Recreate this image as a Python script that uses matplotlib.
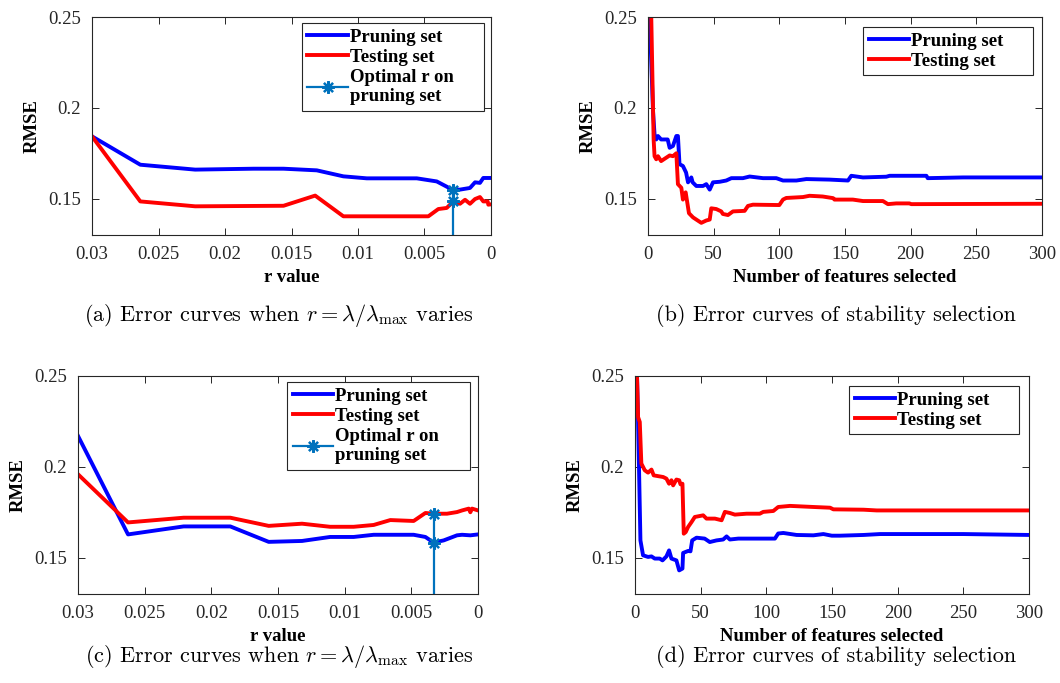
import matplotlib
matplotlib.use('Agg')
import matplotlib.pyplot as plt

plt.rcParams['font.family'] = 'Liberation Serif'
plt.rcParams['mathtext.fontset'] = 'cm'

# (a) error vs r value
a_r_prune = [0.03, 0.02637, 0.02224, 0.01785, 0.0156, 0.0131, 0.0111, 0.00934, 0.00558,
             0.00408, 0.00283, 0.00233, 0.00158, 0.0012, 0.00083, 0.00058, 0.0]
a_prune = [0.1843, 0.1687, 0.1660, 0.1665, 0.1665, 0.1656, 0.1623, 0.1612, 0.1612,
           0.1595, 0.1547, 0.1550, 0.1559, 0.1590, 0.1587, 0.1614, 0.1614]
a_r_test = [0.03, 0.02637, 0.02224, 0.0156, 0.01322, 0.0111, 0.00471, 0.00396, 0.00333,
            0.00283, 0.00233, 0.00195, 0.00158, 0.0012, 0.00083, 0.00058, 0.00025, 0.0002, 0.0]
a_test = [0.1843, 0.1485, 0.1458, 0.1461, 0.1517, 0.1403, 0.1403, 0.1443, 0.1449,
          0.1485, 0.1472, 0.1494, 0.1472, 0.1498, 0.1509, 0.1485, 0.1485, 0.1467, 0.1469]
a_opt_r = 0.00283
a_opt_vals = [0.10, 0.1485, 0.1547]

# (c) error vs r value
c_r_prune = [0.03, 0.02625, 0.02208, 0.01858, 0.0157, 0.0132, 0.0111, 0.00933, 0.00783,
             0.00483, 0.00395, 0.00333, 0.00258, 0.00208, 0.00158, 0.0012, 0.00058, 0.0]
c_prune = [0.2170, 0.1628, 0.1672, 0.1672, 0.1587, 0.1592, 0.1614, 0.1614, 0.1626,
           0.1626, 0.1614, 0.1583, 0.1595, 0.1609, 0.1623, 0.1626, 0.1623, 0.1628]
c_r_test = [0.03, 0.02625, 0.02208, 0.01858, 0.0157, 0.0132, 0.0111, 0.00933, 0.00783,
            0.00658, 0.00483, 0.00395, 0.00333, 0.00233, 0.00158, 0.0012, 0.0007, 0.00058,
            0.00045, 0.0]
c_test = [0.1959, 0.1694, 0.1720, 0.1720, 0.1675, 0.1687, 0.1670, 0.1670, 0.1680,
          0.1707, 0.1702, 0.1746, 0.1742, 0.1742, 0.1751, 0.1760, 0.1770, 0.1750,
          0.1770, 0.1760]
c_opt_r = 0.00333
c_opt_vals = [0.10, 0.1583, 0.1742]

r_ticks = [0.03, 0.025, 0.02, 0.015, 0.01, 0.005, 0]
r_ticklabels = ['0.03', '0.025', '0.02', '0.015', '0.01', '0.005', '0']

# (b) stability selection
b_n_prune = [1.3, 3.8, 5, 6.3, 7.6, 10, 15, 16.5, 19, 21.6, 22.8, 24, 26.6, 29, 30.5, 33, 34,
             36.8, 41.9, 44.4, 47, 49.5, 54.6, 59.6, 63.5, 72.3, 77.4, 87.6, 97.7, 102.8, 113,
             120.6, 138.3, 152.3, 154.8, 163.7, 181.5, 184, 212, 213, 240, 300]
b_prune = [0.25, 0.1987, 0.1853, 0.1826, 0.1845, 0.1826, 0.1826, 0.178, 0.179, 0.1845, 0.1845,
           0.169, 0.168, 0.1644, 0.159, 0.1617, 0.159, 0.157, 0.157, 0.158, 0.155, 0.159,
           0.1593, 0.160, 0.1613, 0.1613, 0.1622, 0.1613, 0.1613, 0.160, 0.160, 0.1608,
           0.1605, 0.160, 0.1626, 0.1617, 0.1621, 0.1626, 0.1626, 0.1613, 0.1617, 0.1617]
b_n_test = [2.5, 4.3, 5, 6.3, 7.6, 10, 14, 16.5, 19, 21.6, 22.8, 25.4, 26.6, 28.7, 31.2, 34.3,
            36.8, 40.6, 44.4, 47, 48.2, 52, 55.8, 57, 60.9, 64.7, 73.6, 76.1, 79.9, 100, 102.8,
            105.3, 118, 123, 133, 141, 142, 156, 163.7, 178.9, 182.7, 189, 199, 200.5, 300]
b_test = [0.25, 0.1826, 0.1734, 0.1717, 0.1734, 0.1707, 0.1726, 0.1738, 0.1734, 0.175, 0.158,
          0.156, 0.1495, 0.1535, 0.142, 0.1397, 0.1385, 0.1367, 0.138, 0.1385, 0.1447, 0.1443,
          0.143, 0.1416, 0.141, 0.143, 0.1433, 0.146, 0.1467, 0.1465, 0.1495, 0.1504, 0.1509,
          0.1516, 0.1512, 0.1503, 0.1495, 0.1495, 0.1487, 0.1487, 0.147, 0.1474, 0.1474,
          0.147, 0.1472]

# (d) stability selection
d_n_prune = [1.5, 2.3, 3, 4.1, 6.1, 9.9, 12.5, 15, 18.8, 20.9, 23.9, 25.9, 27.7, 31.5, 33.6,
             36.1, 36.6, 40.4, 42.2, 43.5, 46.8, 53, 56.9, 62, 67.1, 69.7, 72.2, 78.6, 95, 106.5,
             109, 112.9, 123, 135.8, 143.4, 149.8, 156, 174, 186.6, 250, 300]
d_prune = [0.25, 0.2256, 0.2, 0.1595, 0.1513, 0.1504, 0.1507, 0.1495, 0.1495, 0.1485, 0.1507,
           0.154, 0.1495, 0.1485, 0.143, 0.144, 0.1526, 0.1537, 0.1535, 0.1595, 0.161, 0.1605,
           0.1586, 0.1595, 0.160, 0.1617, 0.160, 0.1605, 0.1605, 0.1605, 0.1633, 0.1636,
           0.1625, 0.1623, 0.163, 0.1621, 0.1621, 0.1625, 0.163, 0.163, 0.1625]
d_n_test = [1.5, 2.3, 3.6, 4.8, 7.4, 9.9, 12.5, 14.2, 21.4, 23.9, 25.9, 27.7, 29, 31.5, 33.6,
            34.6, 36.1, 37.1, 38.6, 40.4, 43, 45.5, 51.9, 54.4, 60.8, 65.9, 68.4, 72.2, 76, 84.9,
            95, 97.6, 105.3, 109, 118, 135.8, 148.5, 151, 174, 184, 199, 300]
d_test = [0.25, 0.2274, 0.2247, 0.2018, 0.1981, 0.1968, 0.1985, 0.1953, 0.1944, 0.1935, 0.1907,
          0.1926, 0.1898, 0.193, 0.1926, 0.1904, 0.1907, 0.1632, 0.1641, 0.1669, 0.1696, 0.1724,
          0.1733, 0.1715, 0.1715, 0.1706, 0.1752, 0.1746, 0.1737, 0.1742, 0.1742, 0.1752,
          0.1757, 0.1779, 0.1785, 0.1779, 0.1775, 0.1766, 0.1764, 0.176, 0.176, 0.176]

n_ticks = [0, 50, 100, 150, 200, 250, 300]
y_ticks = [0.15, 0.2, 0.25]
y_ticklabels = ['0.15', '0.2', '0.25']

BLUE = '#0000ff'
RED = '#ff0000'
OPT = '#0072bd'
EDGE = '#262626'


def style_axes(ax):
    for s in ax.spines.values():
        s.set_color(EDGE)
        s.set_linewidth(0.8)
    ax.tick_params(direction='in', top=True, right=True, length=5, width=0.7,
                   labelsize=13.5, colors=EDGE, pad=8)
    ax.set_ylim(0.13, 0.25)
    ax.set_yticks(y_ticks)
    ax.set_yticklabels(y_ticklabels)
    ax.set_ylabel('RMSE', fontsize=13.5, fontweight='bold', labelpad=5)


def add_legend(ax, box):
    # box = (x0, width, top) in axes fraction; legend stretched to that width
    x0, w, top = box
    leg = ax.legend(loc='upper left', bbox_to_anchor=(x0, 0, w, top), mode='expand',
                    borderaxespad=0, fancybox=False, edgecolor=EDGE, framealpha=1,
                    prop={'weight': 'bold', 'size': 13.5}, handlelength=2.15,
                    handletextpad=0.1, labelspacing=0.15, borderpad=0.3)
    leg.get_frame().set_linewidth(0.8)


def r_panel(ax, rp, yp, rt, yt, opt_r, opt_vals, box):
    ax.plot(rp, yp, color=BLUE, lw=2.8, label='Pruning set')
    ax.plot(rt, yt, color=RED, lw=2.8, label='Testing set')
    ax.plot([opt_r] * len(opt_vals), opt_vals, color=OPT, lw=1.6, marker=(8, 2, 0),
            markevery=[1, 2], markersize=9, markeredgewidth=1.6,
            label='Optimal r on\npruning set')
    ax.set_xlim(0.03, 0)
    ax.set_xticks(r_ticks)
    ax.set_xticklabels(r_ticklabels)
    ax.set_xlabel('r value', fontsize=13.5, fontweight='bold', labelpad=4)
    style_axes(ax)
    add_legend(ax, box)


def n_panel(ax, np_, yp, nt, yt, box):
    ax.plot(np_, yp, color=BLUE, lw=2.8, label='Pruning set')
    ax.plot(nt, yt, color=RED, lw=2.8, label='Testing set')
    ax.set_xlim(0, 300)
    ax.set_xticks(n_ticks)
    ax.set_xlabel('Number of features selected', fontsize=13.5, fontweight='bold', labelpad=4)
    style_axes(ax)
    add_legend(ax, box)


fig = plt.figure(figsize=(10.6, 6.83), dpi=100)
ax_a = fig.add_axes([0.0868, 0.6559, 0.3764, 0.3192])
ax_b = fig.add_axes([0.6113, 0.6559, 0.3717, 0.3192])
ax_c = fig.add_axes([0.0736, 0.1303, 0.3774, 0.3192])
ax_d = fig.add_axes([0.5991, 0.1303, 0.3717, 0.3192])

r_panel(ax_a, a_r_prune, a_prune, a_r_test, a_test, a_opt_r, a_opt_vals, (0.526, 0.456, 0.972))
n_panel(ax_b, b_n_prune, b_prune, b_n_test, b_test, (0.546, 0.431, 0.954))
r_panel(ax_c, c_r_prune, c_prune, c_r_test, c_test, c_opt_r, c_opt_vals, (0.5225, 0.4575, 0.972))
n_panel(ax_d, d_n_prune, d_prune, d_n_test, d_test, (0.543, 0.431, 0.954))

cap = dict(fontsize=16, family='cmr10', ha='center', va='baseline')
fig.text(0.263, 1 - 321 / 683, r'(a) Error curves when $r = \lambda/\lambda_{\max}$ varies', **cap)
fig.text(0.789, 1 - 321 / 683, '(b) Error curves of stability selection', **cap)
fig.text(0.263, 1 - 662 / 683, r'(c) Error curves when $r = \lambda/\lambda_{\max}$ varies', **cap)
fig.text(0.789, 1 - 662 / 683, '(d) Error curves of stability selection', **cap)

fig.savefig('out.png', dpi=100)
